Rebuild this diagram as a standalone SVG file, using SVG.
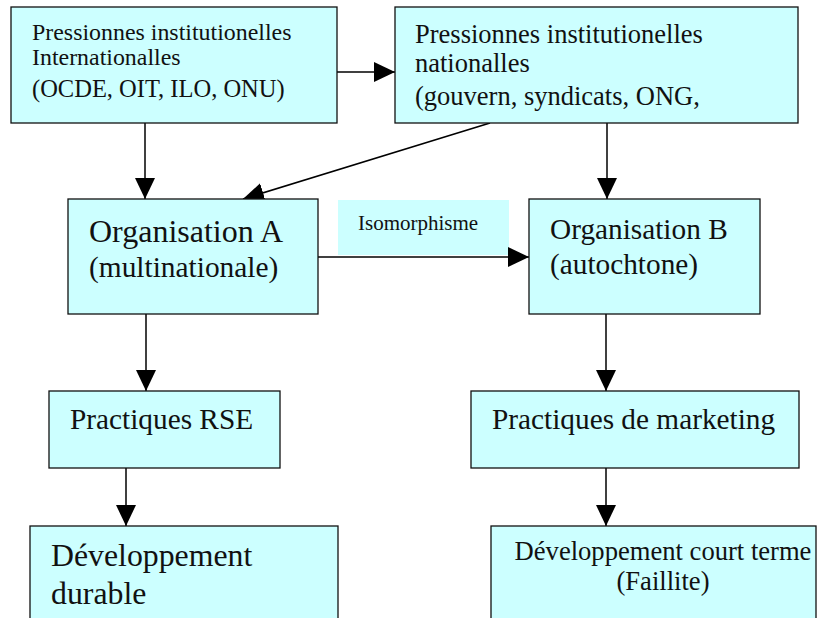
<svg xmlns="http://www.w3.org/2000/svg" width="824" height="618" viewBox="0 0 824 618">
<style>
.box{fill:#CCFFFF;stroke:#111;stroke-width:1.3}
.lbl{fill:#CCFFFF;stroke:none}
.t{font-family:"Liberation Serif","Times New Roman",serif;fill:#111}
.c{stroke:#000;stroke-width:1.5;fill:none;marker-end:url(#ah)}
</style>
<defs>
<marker id="ah" markerUnits="userSpaceOnUse" viewBox="0 0 21 20" markerWidth="21" markerHeight="20" refX="21" refY="10" orient="auto">
<path d="M0,0 L21,10 L0,20 z" fill="#000"/>
</marker>
</defs>
<rect width="824" height="618" fill="#fff"/>
<g id="iso-label">
<rect class="lbl" x="338" y="200" width="171" height="55"/>
<text class="t" x="358" y="230" font-size="21">Isomorphisme</text>
</g>
<g id="connectors">
<line class="c" x1="337" y1="72" x2="395" y2="72"/>
<line class="c" x1="145" y1="123" x2="145" y2="199"/>
<line class="c" x1="490" y1="123" x2="243" y2="199"/>
<line class="c" x1="607" y1="123" x2="607" y2="199"/>
<line class="c" x1="318" y1="257" x2="529" y2="257"/>
<line class="c" x1="146" y1="314" x2="146" y2="391"/>
<line class="c" x1="606" y1="314" x2="606" y2="391"/>
<line class="c" x1="126" y1="468" x2="126" y2="526"/>
<line class="c" x1="606" y1="468" x2="606" y2="526"/>
</g>
<g id="pressions-internationales">
<rect class="box" x="11" y="7" width="326" height="116"/>
<text class="t" x="32" y="40" font-size="23.9">Pressionnes institutionelles</text>
<text class="t" x="32" y="65" font-size="23.9">Internationalles</text>
<text class="t" x="32" y="97" font-size="24.5">(OCDE, OIT, ILO, ONU)</text>
</g>
<g id="pressions-nationales">
<rect class="box" x="395" y="7" width="403" height="116"/>
<text class="t" x="415" y="43" font-size="26.5">Pressionnes institutionelles</text>
<text class="t" x="415" y="72" font-size="26.5">nationalles</text>
<text class="t" x="415" y="105" font-size="26.5">(gouvern, syndicats, ONG,</text>
</g>
<g id="organisation-a">
<rect class="box" x="68" y="199" width="250" height="115"/>
<text class="t" x="89" y="242" font-size="32">Organisation A</text>
<text class="t" x="89" y="277" font-size="29.4">(multinationale)</text>
</g>
<g id="organisation-b">
<rect class="box" x="529" y="199" width="231" height="115"/>
<text class="t" x="550" y="239" font-size="29.3">Organisation B</text>
<text class="t" x="550" y="274" font-size="29.3">(autochtone)</text>
</g>
<g id="practiques-rse">
<rect class="box" x="49" y="391" width="231" height="77"/>
<text class="t" x="70" y="429" font-size="29.3">Practiques RSE</text>
</g>
<g id="practiques-marketing">
<rect class="box" x="471" y="391" width="328" height="77"/>
<text class="t" x="492" y="429" font-size="29.3">Practiques de marketing</text>
</g>
<g id="developpement-durable">
<rect class="box" x="30" y="526" width="308" height="110"/>
<text class="t" x="51" y="566" font-size="31.8">Développement</text>
<text class="t" x="51" y="604" font-size="31.8">durable</text>
</g>
<g id="developpement-court-terme">
<rect class="box" x="491" y="526" width="325" height="110"/>
<text class="t" x="663" y="560" font-size="26.6" text-anchor="middle">Développement court terme</text>
<text class="t" x="663" y="590" font-size="26.6" text-anchor="middle">(Faillite)</text>
</g>
</svg>
